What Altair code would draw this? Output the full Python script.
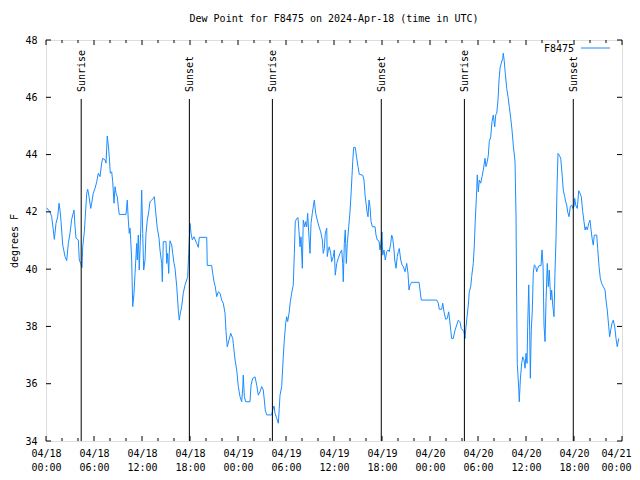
import altair as alt
import pandas as pd

# Hours since 2024-04-18 00:00 UTC
hours = [
    0.09, 0.5, 0.71, 0.91, 1.04, 1.25, 1.46, 1.63, 1.75, 1.88, 2.09, 2.38, 2.59, 2.79, 3.0, 3.21, 3.5, 3.63, 3.75, 4.04,
    4.16, 4.34, 4.5, 4.59, 4.79, 4.96, 5.09, 5.21, 5.38, 5.59, 5.71, 5.91, 6.13, 6.34, 6.54, 6.75, 6.96, 7.09, 7.38, 7.5,
    7.66, 7.79, 7.91, 8.04, 8.21, 8.34, 8.5, 8.63, 8.75, 8.91, 9.04, 9.16, 10.0, 10.16, 10.29, 10.41, 10.5, 10.59, 10.71, 10.84,
    11.0, 11.13, 11.34, 11.41, 11.54, 11.66, 11.84, 11.96, 12.09, 12.21, 12.38, 12.5, 12.66, 12.84, 13.0, 13.21, 13.41, 13.54, 13.71, 13.91,
    14.13, 14.25, 14.46, 14.54, 14.66, 15.0, 15.09, 15.21, 15.34, 15.41, 15.5, 15.71, 15.84, 16.0, 16.13, 16.34, 16.54, 16.66, 16.79, 16.96,
    17.16, 17.38, 17.59, 17.71, 17.84, 18.0, 18.13, 18.29, 18.5, 18.66, 18.84, 19.04, 19.16, 20.09, 20.16, 20.71, 20.84, 21.0, 21.16, 21.34,
    21.54, 21.75, 21.96, 22.16, 22.38, 22.5, 22.66, 22.88, 23.09, 23.34,
    23.41, 23.63, 23.84, 24.04, 24.25, 24.46, 24.59, 24.66, 24.79, 24.96, 25.5, 25.63, 25.84, 26.13, 26.34, 26.54, 26.75, 26.96, 27.16, 27.29,
    27.41, 27.59, 28.21, 28.34, 28.5, 28.63, 28.84, 29.04, 29.16, 29.25, 29.46, 29.66, 29.79, 29.96, 30.09, 30.21, 30.38, 30.54, 30.71, 30.91,
    31.04, 31.16, 31.34, 31.5, 31.63, 31.75, 31.88, 32.04, 32.16, 32.34, 32.46, 32.59, 32.71, 32.88, 33.0, 33.13, 33.29, 33.41, 33.54, 33.71,
    33.91, 34.13, 34.34, 34.54, 34.66, 34.79, 34.91, 35.09, 35.16, 35.29, 35.41, 35.59, 35.71, 35.91, 36.04, 36.16, 36.34, 36.54, 36.75, 36.96,
    37.09, 37.16, 37.29, 37.41, 37.54, 37.66, 37.84, 38.0, 38.16, 38.34, 38.46, 38.66, 38.84, 39.0, 39.16, 39.59, 39.75, 39.88, 40.0, 40.13,
    40.25, 40.38, 40.5, 40.63, 40.79, 41.13, 41.25, 41.41, 41.63, 41.75, 41.88, 42.0, 42.09, 42.25, 42.41, 42.59, 42.75, 42.91, 43.09, 43.21,
    43.34, 43.5, 43.59, 43.75, 43.91, 44.04, 44.16, 44.34, 44.5, 44.66, 44.88, 45.09, 45.25, 45.38, 45.5, 45.71, 46.63, 46.75, 46.91,
    48.84, 49.04, 49.16, 49.46, 49.59, 49.75, 49.96, 50.16, 50.34, 50.46, 50.59, 50.71, 50.91, 51.13, 51.34, 51.54, 51.75, 51.91, 52.09, 52.25,
    52.38, 52.5, 52.63, 52.79, 52.91, 53.09, 53.21, 53.41, 53.54, 53.66, 53.84, 53.91, 54.04, 54.16, 54.34, 54.5, 54.66, 54.88, 55.0, 55.16,
    55.29, 55.41, 55.59, 55.75, 55.91, 56.09, 56.21, 56.34, 56.5, 56.63, 56.75, 56.91, 57.09, 57.16, 57.29, 57.41, 57.59, 57.75, 57.91, 58.09,
    58.25, 58.41, 58.63, 58.75, 58.84, 58.91, 59.09, 59.16, 59.29, 59.46, 59.59, 59.75, 59.88, 60.0, 60.13, 60.21, 60.34, 60.46, 60.54, 60.66,
    60.79, 60.91, 61.04, 61.21, 61.34, 61.46, 61.63, 61.88, 62.0, 62.13, 62.25, 62.38, 62.5, 62.66, 62.79, 62.91, 63.09, 63.21, 63.34, 63.5,
    63.63, 63.75, 63.88, 64.0, 64.16, 64.34, 64.5, 64.66, 64.84, 64.96, 65.09, 65.21, 65.38, 65.54, 65.71, 65.84, 66.0, 66.09, 66.21, 66.41,
    66.59, 66.75, 66.91, 67.09, 67.25, 67.38, 67.5, 67.66, 67.84, 68.0, 68.13, 68.29, 68.41, 68.54, 68.84, 68.96, 69.13, 69.29, 69.46, 69.66,
    69.88, 70.0, 70.16, 70.34, 70.46, 70.59, 70.75, 70.91, 71.09, 71.25, 71.41, 71.59,
]

# Dew point, degrees F
dewpoint = [
    42.14, 42.0, 41.83, 41.37, 41.04, 41.6, 41.83, 42.3, 42.06, 41.66, 40.84, 40.44, 40.3, 40.9, 41.25, 41.74, 42.06, 41.48, 41.08, 41.02,
    40.32, 40.2, 40.06, 40.78, 41.3, 42.06, 42.65, 42.79, 42.53, 42.12, 42.3, 42.65, 42.82, 43.05, 43.35, 43.23, 43.7, 43.87, 43.81, 43.7,
    44.65, 44.33, 43.93, 43.35, 43.4, 43.05, 42.3, 42.88, 42.65, 42.53, 42.18, 41.91, 41.91, 42.41, 41.71, 41.25, 41.43, 41.02, 40.32, 38.69,
    39.16, 39.85, 40.9, 40.32, 41.19, 39.97, 41.37, 42.76, 41.25, 39.97, 40.32, 41.25, 41.71, 42.0, 42.35, 42.41, 42.47, 42.53, 42.0, 41.43,
    41.08, 40.67, 40.2, 39.56, 40.96, 40.96, 40.2, 40.55, 39.85, 40.55, 40.99, 40.84, 40.55, 40.2, 40.03, 39.39, 38.57, 38.22, 38.46, 38.69,
    39.16, 39.45, 39.62, 39.74, 40.55, 41.6, 41.25, 41.02, 41.13, 41.02, 40.9, 40.76, 41.11, 41.11, 40.13, 40.13, 39.85, 39.56, 39.39, 39.04,
    39.21, 39.16, 38.92, 38.81, 38.46, 37.82, 37.29, 37.53, 37.76, 37.58,
    37.41, 36.83, 36.48, 35.9, 35.55, 35.37, 35.84, 36.3, 35.55, 35.37, 35.37, 35.95, 36.19, 36.24, 35.95, 35.6, 35.72, 35.9, 35.78, 35.43,
    35.08, 34.91, 34.91, 35.08, 35.22, 34.97, 34.79, 34.62, 35.14, 35.6, 35.9, 36.94, 37.53, 38.11, 38.34, 38.17, 38.46, 38.86, 39.16, 39.45,
    40.55, 41.66, 41.77, 41.8, 41.3, 40.78, 41.13, 40.03, 41.71, 41.48, 41.66, 41.48, 41.95, 41.08, 40.55, 41.6, 41.95, 42.18, 42.41, 41.95,
    41.71, 41.48, 41.3, 41.02, 40.55, 40.72, 41.25, 41.43, 40.44, 40.67, 40.78, 40.55, 40.26, 40.44, 40.67, 39.79, 40.2, 40.38, 40.55, 40.67,
    40.2, 39.56, 40.9, 41.37, 40.2, 40.9, 41.48, 42.0, 42.76, 43.75, 44.25, 44.25, 43.87, 43.58, 43.31, 43.28, 43.11, 42.59, 42.3, 42.0,
    41.83, 42.41, 42.18, 41.66, 41.48, 41.48, 41.19, 41.02, 40.98, 40.67, 40.9, 41.3, 40.49, 40.67, 40.32, 40.61, 40.67, 40.61, 40.9, 41.19,
    41.08, 40.67, 40.32, 40.03, 40.44, 40.61, 40.72, 40.32, 40.15, 40.09, 39.91, 40.2, 39.85, 39.27, 39.45, 39.54, 39.54, 39.27, 38.92,
    38.92, 38.81, 38.6, 38.6, 38.81, 38.51, 38.25, 38.28, 38.51, 38.22, 37.87, 37.58, 37.58, 37.87, 38.05, 38.22, 38.16, 37.93, 37.87, 37.82,
    37.58, 37.99, 38.34, 38.75, 39.21, 39.39, 39.74, 40.2, 40.84, 41.71, 42.76, 43.29, 42.7, 43.11, 43.0, 43.23, 43.46, 43.87, 43.58, 43.75,
    43.98, 44.45, 44.62, 45.15, 45.38, 44.97, 45.38, 45.44, 45.9, 46.6, 47.01, 47.19, 47.36, 47.54, 47.24, 46.84, 46.31, 46.02, 45.67, 45.27,
    44.86, 44.33, 43.75, 41.89, 38.75, 36.71, 35.84, 35.37, 36.13, 36.71, 36.94, 36.83, 36.54, 37.06, 36.71, 37.99, 39.45, 37.87, 36.19, 37.87,
    38.57, 39.85, 40.15, 40.09, 39.91, 40.03, 40.12, 40.12, 40.67, 40.15, 38.05, 37.47, 38.86, 40.2, 39.39, 39.97, 38.92, 39.27, 38.75, 38.34,
    39.97, 41.02, 42.88, 44.04, 43.98, 43.87, 43.35, 42.76, 42.53, 42.35, 42.24, 42.0, 41.83, 42.18, 42.24, 42.12, 42.18, 42.47, 42.24, 42.12,
    42.74, 42.65, 42.53, 42.0, 41.66, 41.37, 41.48, 41.37, 41.6, 41.71, 41.37, 41.02, 40.84, 41.19, 41.19, 40.72, 40.09, 39.68, 39.5, 39.39,
    39.27, 38.92, 38.57, 37.99, 37.64, 37.87, 38.11, 38.22, 37.99, 37.58, 37.29, 37.58,
]

sun_hours = [4.4, 17.92, 28.3, 41.91, 52.3, 65.91]
sun_labels = ["Sunrise", "Sunset", "Sunrise", "Sunset", "Sunrise", "Sunset"]

x_major = list(range(0, 73, 6))
x_minor = [h for h in range(0, 73, 2) if h % 6 != 0]
y_ticks = list(range(34, 49, 2))

FONT = "DejaVu Sans Mono"
W, H = 576, 401
BLUE = "#1a8cff"

df = pd.DataFrame({"t": hours, "v": dewpoint})
sun = pd.DataFrame({"t": sun_hours, "label": sun_labels})
xmaj = pd.DataFrame({"t": x_major})
xmin = pd.DataFrame({"t": x_minor})
yt = pd.DataFrame({"v": y_ticks})

xscale = alt.Scale(domain=[0, 72], nice=False, zero=False)
yscale = alt.Scale(domain=[34, 48], nice=False, zero=False)

label_expr = (
    "['04/' + (18 + floor(datum.value / 24)), "
    "(datum.value % 24 < 10 ? '0' : '') + (datum.value % 24) + ':00']"
)

x_axis = alt.Axis(
    values=x_major, labelExpr=label_expr, ticks=False, domain=False, grid=False,
    labelFont=FONT, labelFontSize=10, labelColor="black", labelPadding=7,
    labelLineHeight=14, labelFlush=False, labelOverlap=False, title=None,
    labelOffset={"condition": {"test": "datum.value == 72", "value": -6}, "value": 0},
)
y_axis = alt.Axis(
    values=y_ticks, ticks=False, domain=False, grid=False,
    labelFont=FONT, labelFontSize=10, labelColor="black", labelPadding=9,
    title="degrees F", titleFont=FONT, titleFontSize=10, titleFontWeight="normal",
    titleColor="black", titleX=-32, titleY=H / 2, titleAngle=270,
    titleAlign="center", titleBaseline="middle",
)

X = alt.X("t:Q", scale=xscale, axis=x_axis)
Y = alt.Y("v:Q", scale=yscale, axis=y_axis)

line = alt.Chart(df).mark_line(color=BLUE, strokeWidth=1, interpolate="linear").encode(x=X, y=Y)

tick_bot_major = alt.Chart(xmaj).mark_rule(color="black", strokeWidth=1).encode(
    x=X, y=alt.value(H), y2=alt.value(H - 5))
tick_top_major = alt.Chart(xmaj).mark_rule(color="black", strokeWidth=1).encode(
    x=X, y=alt.value(0), y2=alt.value(5))
tick_bot_minor = alt.Chart(xmin).mark_rule(color="black", strokeWidth=1).encode(
    x=X, y=alt.value(H), y2=alt.value(H - 3))
tick_top_minor = alt.Chart(xmin).mark_rule(color="black", strokeWidth=1).encode(
    x=X, y=alt.value(0), y2=alt.value(3))
tick_left = alt.Chart(yt).mark_rule(color="black", strokeWidth=1).encode(
    y=Y, x=alt.value(0), x2=alt.value(5))
tick_right = alt.Chart(yt).mark_rule(color="black", strokeWidth=1).encode(
    y=Y, x=alt.value(W), x2=alt.value(W - 5))

sun_rules = alt.Chart(sun).mark_rule(color="black", strokeWidth=1).encode(
    x=X, y=alt.value(H), y2=alt.value(59))
sun_text = alt.Chart(sun).mark_text(
    angle=270, align="left", baseline="middle", font=FONT, fontSize=10, color="black", dy=1
).encode(x=X, y=alt.value(52), text="label:N")

legend_src = alt.Data(values=[{"name": "F8475"}])
legend_text = alt.Chart(legend_src).mark_text(
    align="right", baseline="middle", font=FONT, fontSize=10, color="black"
).encode(x=alt.value(528), y=alt.value(9), text="name:N")
legend_line = alt.Chart(legend_src).mark_rule(color=BLUE, strokeWidth=1).encode(
    x=alt.value(535), x2=alt.value(564), y=alt.value(8))

chart = alt.layer(
    line, sun_rules, sun_text,
    tick_bot_major, tick_top_major, tick_bot_minor, tick_top_minor, tick_left, tick_right,
    legend_text, legend_line,
).properties(
    width=W, height=H,
    title=alt.Title(
        "Dew Point for F8475 on 2024-Apr-18 (time in UTC)",
        font=FONT, fontSize=10, fontWeight="normal", color="black",
        anchor="middle", frame="group", baseline="middle", offset=6,
    ),
    autosize="none",
    padding={"left": 38, "top": 32, "right": 10, "bottom": 31},
).configure_view(stroke="black", strokeWidth=1).configure(background="white")

chart.save("out.html", embed_options={"renderer": "svg", "actions": False})
